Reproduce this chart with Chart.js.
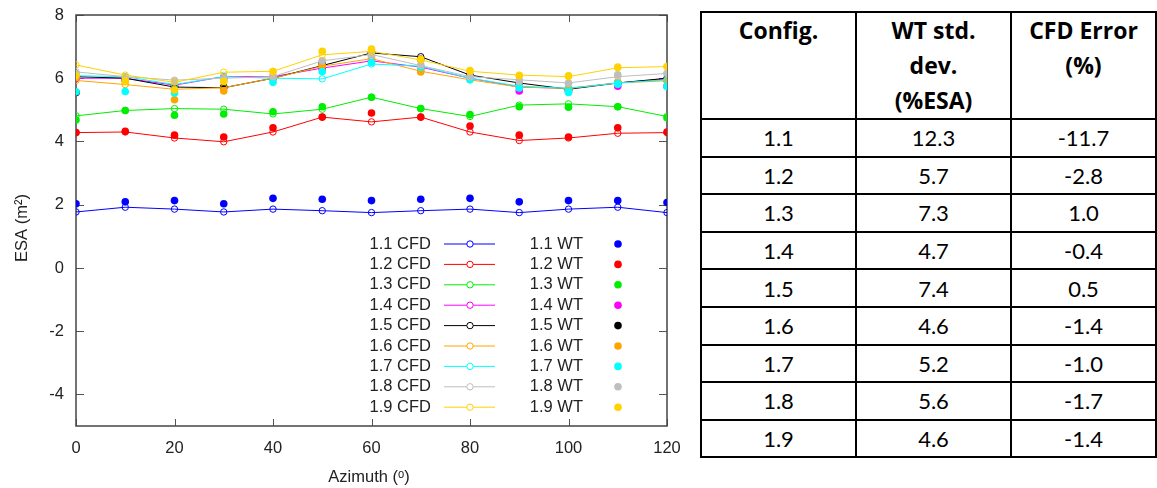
<!DOCTYPE html>
<html>
<head>
<meta charset="utf-8">
<script src="https://cdn.jsdelivr.net/npm/chart.js"></script>
<style>
  body { margin: 0; background: #fff; width: 1157px; height: 488px; overflow: hidden; position: relative; }
  #plot { position: absolute; left: 0; top: 0; }
  table { position: absolute; left: 700px; top: 11px; border-collapse: collapse;
          font-family: Lato, "Open Sans", sans-serif; font-size: 22px; color: #000; }
  th, td { border: 2px solid #000; text-align: center; padding: 0; }
  th { font-family: "Open Sans", Lato, sans-serif; font-size: 23px; font-weight: bold;
       vertical-align: top; line-height: 35px; height: 102px; padding-top: 0; }
  td { height: 35.6px; line-height: 35px; }
</style>
</head>
<body>
<canvas id="plot" width="690" height="488"></canvas>
<table id="tbl"></table>
<script>
const azimuth = [0, 10, 20, 30, 40, 50, 60, 70, 80, 90, 100, 110, 120];
const xTicks = [0, 20, 40, 60, 80, 100, 120];
const yTicks = [-4, -2, 0, 2, 4, 6, 8];

const configs = ["1.1", "1.2", "1.3", "1.4", "1.5", "1.6", "1.7", "1.8", "1.9"];
const colors = ["#0000ff", "#ff0000", "#00ee00", "#ff00ff", "#000000", "#ffa500", "#00ffff", "#bebebe", "#ffd200"];

// CFD (open circles + line)
const cfd11 = [1.77, 1.92, 1.86, 1.77, 1.86, 1.81, 1.75, 1.81, 1.86, 1.75, 1.86, 1.92, 1.75];
const cfd12 = [4.28, 4.30, 4.11, 3.99, 4.30, 4.77, 4.62, 4.77, 4.30, 4.03, 4.11, 4.26, 4.28];
const cfd13 = [4.81, 4.98, 5.04, 5.02, 4.87, 5.02, 5.40, 5.04, 4.79, 5.15, 5.19, 5.10, 4.79];
const cfd14 = [6.00, 6.00, 5.78, 6.05, 6.05, 6.32, 6.55, 6.35, 6.00, 5.72, 5.68, 5.85, 5.98];
const cfd15 = [6.05, 6.00, 5.72, 5.70, 6.00, 6.40, 6.80, 6.68, 6.10, 5.85, 5.65, 5.85, 6.00];
const cfd16 = [5.93, 5.80, 5.65, 5.70, 6.00, 6.38, 6.62, 6.22, 5.95, 5.72, 5.68, 5.85, 5.92];
const cfd17 = [6.08, 6.05, 5.80, 6.05, 6.00, 5.98, 6.45, 6.38, 6.00, 5.75, 5.68, 5.85, 5.95];
const cfd18 = [6.20, 6.05, 5.94, 6.00, 6.05, 6.55, 6.75, 6.40, 6.05, 5.95, 5.85, 6.05, 6.15];
const cfd19 = [6.42, 6.10, 5.87, 6.19, 6.22, 6.74, 6.85, 6.58, 6.22, 6.10, 6.05, 6.33, 6.37];

// WT (filled dots)
const wt11 = [2.03, 2.09, 2.13, 2.03, 2.20, 2.17, 2.13, 2.17, 2.20, 2.09, 2.13, 2.13, 2.07];
const wt12 = [4.28, 4.32, 4.20, 4.14, 4.43, 4.77, 4.90, 4.77, 4.49, 4.20, 4.14, 4.43, 4.30];
const wt13 = [4.68, 4.98, 4.83, 4.87, 4.94, 5.10, 5.40, 5.04, 4.85, 5.10, 5.08, 5.10, 4.75];
const wt14 = [6.00, 5.95, 5.75, 6.00, 6.05, 6.30, 6.55, 6.30, 6.00, 5.60, 5.65, 5.75, 5.75];
const wt15 = [5.55, 5.95, 5.75, 5.72, 6.00, 6.48, 6.82, 6.60, 6.08, 5.80, 5.60, 5.85, 5.95];
const wt16 = [6.05, 5.90, 5.32, 5.60, 6.00, 6.40, 6.65, 6.20, 6.00, 5.75, 5.65, 5.88, 5.93];
const wt17 = [5.57, 5.58, 5.53, 5.95, 5.87, 6.21, 6.50, 6.35, 5.95, 5.69, 5.55, 5.81, 5.74];
const wt18 = [6.15, 6.00, 5.90, 5.95, 6.05, 6.55, 6.72, 6.42, 6.05, 5.90, 5.84, 6.11, 6.15];
const wt19 = [6.08, 5.90, 5.63, 5.90, 6.21, 6.85, 6.92, 6.60, 6.24, 6.08, 6.08, 6.35, 6.37];

// table columns
const wtStd = ["12.3", "5.7", "7.3", "4.7", "7.4", "4.6", "5.2", "5.6", "4.6"];
const cfdErr = ["-11.7", "-2.8", "1.0", "-0.4", "0.5", "-1.4", "-1.0", "-1.7", "-1.4"];

const cfdSeries = [cfd11, cfd12, cfd13, cfd14, cfd15, cfd16, cfd17, cfd18, cfd19];
const wtSeries = [wt11, wt12, wt13, wt14, wt15, wt16, wt17, wt18, wt19];

function pts(vals) {
  return vals.map((v, i) => ({ x: azimuth[i], y: v }));
}

const datasets = [];
configs.forEach(function (c, i) {
  datasets.push({
    label: c + " CFD",
    data: pts(cfdSeries[i]),
    borderColor: colors[i],
    backgroundColor: "transparent",
    pointBorderColor: colors[i],
    pointBackgroundColor: "transparent",
    pointRadius: 3.2,
    pointBorderWidth: 1,
    borderWidth: 1,
    showLine: true,
    order: (8 - i) * 2 + 1
  });
  datasets.push({
    label: c + " WT",
    data: pts(wtSeries[i]),
    borderColor: colors[i],
    backgroundColor: colors[i],
    pointBackgroundColor: colors[i],
    pointBorderColor: colors[i],
    pointRadius: 3.8,
    pointBorderWidth: 0,
    showLine: false,
    order: (8 - i) * 2
  });
});

const textCol = "#222";
const axisFont = "17px 'Liberation Sans', Arial, sans-serif";

function label(ctx, txt, x, y, align, rot) {
  ctx.save();
  ctx.translate(x, y);
  if (rot) ctx.rotate(rot);
  ctx.scale(0.97, 1);
  ctx.textAlign = align;
  ctx.textBaseline = "middle";
  ctx.fillText(txt, 0, 0);
  ctx.restore();
}

// gnuplot style frame with inward ticks on all sides
const frame = {
  id: "frame",
  beforeDatasetsDraw(chart) {
    const { ctx, chartArea: a, scales: { x, y } } = chart;
    ctx.save();
    ctx.strokeStyle = "#555";
    ctx.lineWidth = 1;
    x.ticks.forEach(function (t) {
      const px = Math.round(x.getPixelForValue(t.value)) + 0.5;
      ctx.beginPath();
      ctx.moveTo(px, a.bottom); ctx.lineTo(px, a.bottom - 7);
      ctx.moveTo(px, a.top); ctx.lineTo(px, a.top + 7);
      ctx.stroke();
    });
    y.ticks.forEach(function (t) {
      const py = Math.round(y.getPixelForValue(t.value)) + 0.5;
      ctx.beginPath();
      ctx.moveTo(a.left, py); ctx.lineTo(a.left + 8, py);
      ctx.moveTo(a.right, py); ctx.lineTo(a.right - 8, py);
      ctx.stroke();
    });
    ctx.lineWidth = 1.5;
    ctx.strokeStyle = "#444";
    ctx.strokeRect(a.left, a.top, a.right - a.left, a.bottom - a.top);
    ctx.restore();
  },
  afterDraw(chart) {
    const { ctx, chartArea: a, scales: { x, y } } = chart;
    ctx.save();
    ctx.font = axisFont;
    ctx.fillStyle = textCol;
    x.ticks.forEach(function (t) {
      label(ctx, String(t.value), x.getPixelForValue(t.value), a.bottom + 22, "center");
    });
    y.ticks.forEach(function (t) {
      label(ctx, String(t.value), a.left - 12, y.getPixelForValue(t.value), "right");
    });
    label(ctx, "Azimuth (ᵒ)", 369, 477, "center");
    label(ctx, "ESA (m²)", 22, 228, "center", -Math.PI / 2);
    ctx.restore();
  }
};

// two-column legend inside the plot
const keyBox = {
  id: "keyBox",
  afterDraw(chart) {
    const ctx = chart.ctx;
    const ds = chart.data.datasets;
    ctx.save();
    ctx.font = axisFont;
    for (let i = 0; i < configs.length; i++) {
      const cfdSet = ds[i * 2], wtSet = ds[i * 2 + 1];
      const yy = 244 + i * 20.4;
      ctx.fillStyle = textCol;
      label(ctx, cfdSet.label, 431, yy, "right");
      label(ctx, wtSet.label, 583, yy, "right");
      ctx.strokeStyle = cfdSet.borderColor;
      ctx.lineWidth = 1;
      ctx.beginPath();
      ctx.moveTo(444, yy); ctx.lineTo(495, yy);
      ctx.stroke();
      ctx.fillStyle = "#fff";
      ctx.beginPath();
      ctx.arc(470, yy, 3.2, 0, Math.PI * 2);
      ctx.fill(); ctx.stroke();
      ctx.fillStyle = wtSet.backgroundColor;
      ctx.beginPath();
      ctx.arc(618, yy, 3.8, 0, Math.PI * 2);
      ctx.fill();
    }
    ctx.restore();
  }
};

new Chart(document.getElementById("plot").getContext("2d"), {
  type: "scatter",
  data: { datasets: datasets },
  options: {
    responsive: false,
    animation: false,
    layout: { padding: { top: 15, right: 23, left: 0, bottom: 0 } },
    plugins: { legend: { display: false }, tooltip: { enabled: false } },
    scales: {
      x: {
        type: "linear", min: 0, max: 120,
        afterBuildTicks: function (s) { s.ticks = xTicks.map(v => ({ value: v })); },
        afterFit: function (s) { s.height = 62; },
        grid: { display: false, drawTicks: false },
        border: { display: false },
        ticks: { display: false }
      },
      y: {
        type: "linear", min: -5, max: 8,
        afterBuildTicks: function (s) { s.ticks = yTicks.map(v => ({ value: v })); },
        afterFit: function (s) { s.width = 76; },
        grid: { display: false, drawTicks: false },
        border: { display: false },
        ticks: { display: false }
      }
    }
  },
  plugins: [frame, keyBox]
});

// table beside the plot
const tbl = document.getElementById("tbl");
let html = '<tr><th style="width:153px">Config.</th><th style="width:153px">WT std.<br>dev.<br>(%ESA)</th><th style="width:143px">CFD Error<br>(%)</th></tr>';
configs.forEach(function (c, i) {
  html += "<tr><td>" + c + "</td><td>" + wtStd[i] + "</td><td>" + cfdErr[i] + "</td></tr>";
});
tbl.innerHTML = html;
</script>
</body>
</html>
